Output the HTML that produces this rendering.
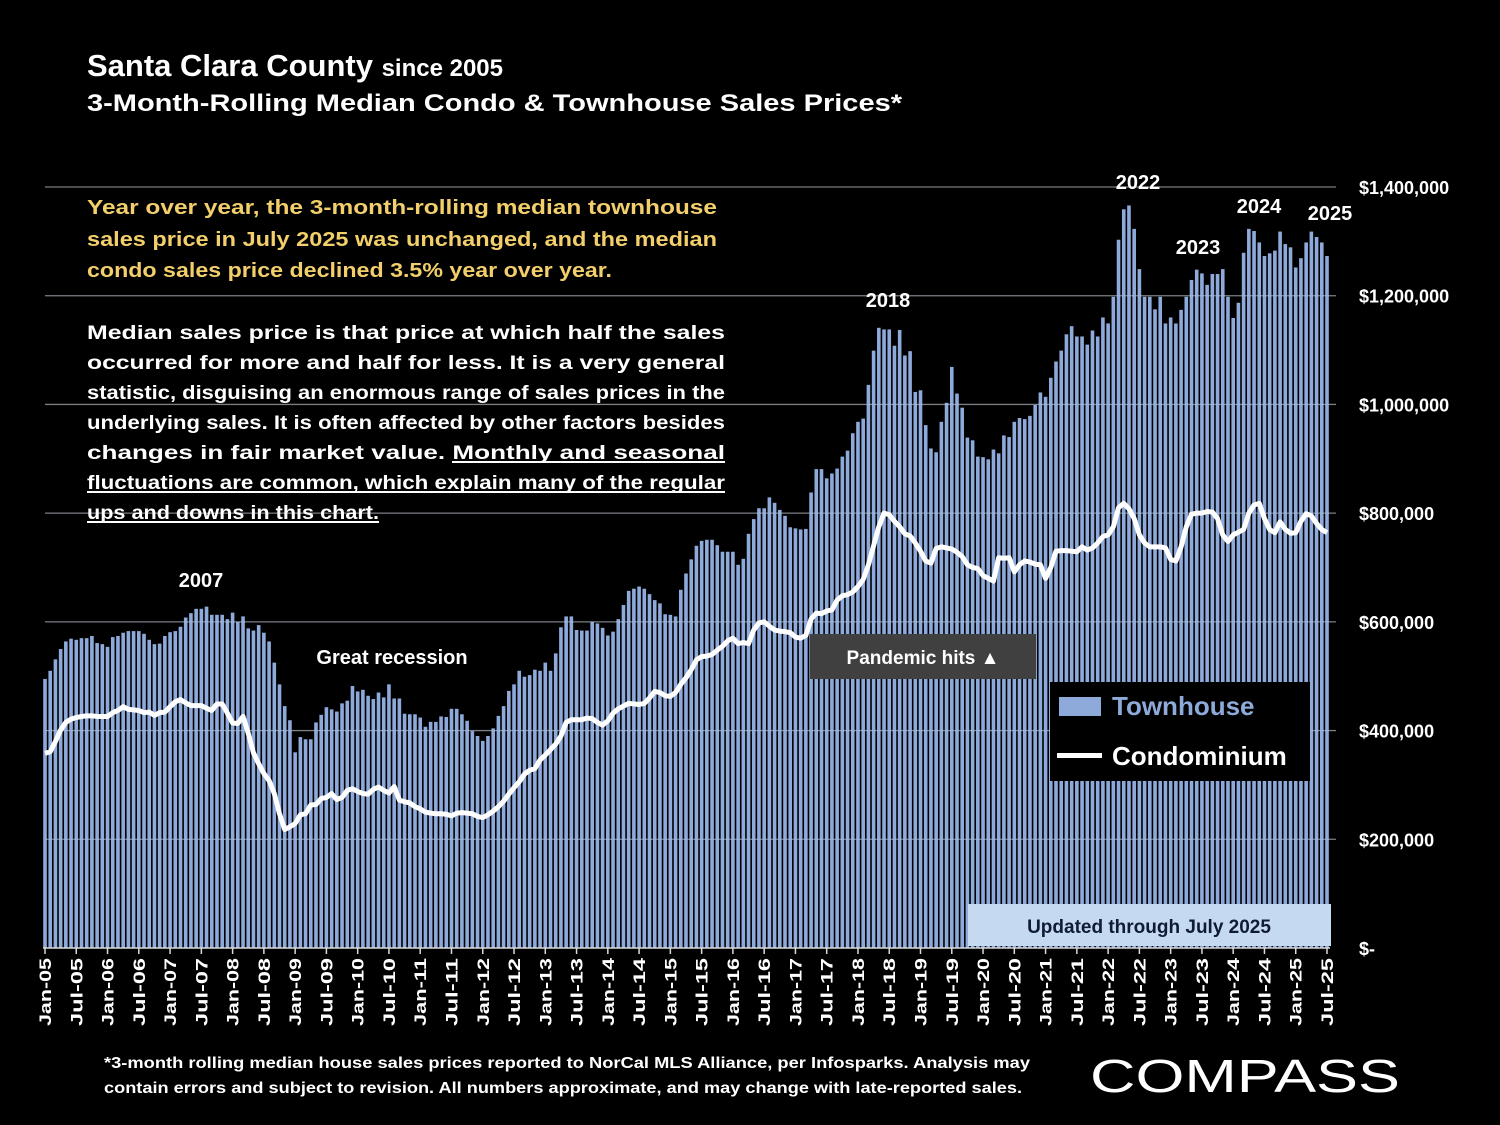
<!DOCTYPE html>
<html><head><meta charset="utf-8">
<style>
html,body{margin:0;padding:0;background:#000;}
svg{display:block;font-family:"Liberation Sans",sans-serif;}
</style></head>
<body>
<svg id="chart" width="1500" height="1125" viewBox="0 0 1500 1125" xmlns="http://www.w3.org/2000/svg">
<rect x="0" y="0" width="1500" height="1125" fill="#000"/>
<g fill="#fff" font-weight="bold">
<text x="87" y="76" font-size="31">Santa Clara County <tspan font-size="24">since 2005</tspan></text>
<text x="87" y="111" font-size="24" textLength="815" lengthAdjust="spacingAndGlyphs">3-Month-Rolling Median Condo &amp; Townhouse Sales Prices*</text>
</g>
<g id="grid"></g>
<g id="bars"></g>
<g id="gridTop"></g>
<path id="condoLine" fill="none" stroke="#fff" stroke-width="5" stroke-linejoin="round"/>
<g id="yaxis" fill="#fff" font-size="18" font-weight="bold"></g>
<g id="xaxis" fill="#fff" font-size="17" font-weight="bold"></g>

<g fill="#f2cf6a" font-size="20" font-weight="bold">
<text x="87" y="214" textLength="630" lengthAdjust="spacingAndGlyphs">Year over year, the 3-month-rolling median townhouse</text>
<text x="87" y="246" textLength="630" lengthAdjust="spacingAndGlyphs">sales price in July 2025 was unchanged, and the median</text>
<text x="87" y="277" textLength="525" lengthAdjust="spacingAndGlyphs">condo sales price declined 3.5% year over year.</text>
</g>
<g fill="#fff" font-size="19" font-weight="bold">
<text x="87" y="339" textLength="638" lengthAdjust="spacingAndGlyphs">Median sales price is that price at which half the sales</text>
<text x="87" y="369" textLength="638" lengthAdjust="spacingAndGlyphs">occurred for more and half for less. It is a very general</text>
<text x="87" y="399" textLength="638" lengthAdjust="spacingAndGlyphs">statistic, disguising an enormous range of sales prices in the</text>
<text x="87" y="429" textLength="638" lengthAdjust="spacingAndGlyphs">underlying sales. It is often affected by other factors besides</text>
<text x="87" y="459" textLength="638" lengthAdjust="spacingAndGlyphs">changes in fair market value. Monthly and seasonal</text>
<text x="87" y="489" textLength="638" lengthAdjust="spacingAndGlyphs">fluctuations are common, which explain many of the regular</text>
<text x="87" y="519" textLength="292" lengthAdjust="spacingAndGlyphs">ups and downs in this chart.</text>
<rect x="452" y="461" width="273" height="2" fill="#fff"/>
<rect x="87" y="491" width="638" height="2" fill="#fff"/>
<rect x="87" y="521" width="292" height="2" fill="#fff"/>
</g>

<g fill="#fff" font-size="20" font-weight="bold" text-anchor="middle">
<text x="201" y="587">2007</text>
<text x="392" y="664">Great recession</text>
<text x="888" y="307">2018</text>
<text x="1138" y="189">2022</text>
<text x="1198" y="254">2023</text>
<text x="1259" y="213">2024</text>
<text x="1330" y="220">2025</text>
</g>

<g>
<rect x="810" y="634" width="226" height="45" fill="#404040"/>
<text x="923" y="664" fill="#fff" font-size="19" font-weight="bold" text-anchor="middle">Pandemic hits ▲</text>
</g>

<g>
<rect x="1050" y="682" width="260" height="99" fill="#000"/>
<g>
<rect x="1059" y="697" width="42" height="19" fill="#8eaadb"/>
<text x="1112" y="715" fill="#8eaadb" font-size="26" font-weight="bold">Townhouse</text>
</g>
<g>
<rect x="1057" y="753" width="45" height="5" fill="#fff"/>
<text x="1112" y="765" fill="#fff" font-size="26" font-weight="bold">Condominium</text>
</g>
</g>

<g>
<rect x="968" y="904" width="363" height="42" fill="#c5daf0"/>
<text x="1149" y="933" fill="#0f1c33" font-size="19" font-weight="bold" text-anchor="middle">Updated through July 2025</text>
</g>

<g fill="#fff" font-size="16" font-weight="bold">
<text x="104" y="1068" textLength="926" lengthAdjust="spacingAndGlyphs">*3-month rolling median house sales prices reported to NorCal MLS Alliance, per Infosparks. Analysis may</text>
<text x="104" y="1093" textLength="918" lengthAdjust="spacingAndGlyphs">contain errors and subject to revision. All numbers approximate, and may change with late-reported sales.</text>
</g>
<text x="1090" y="1092" fill="#fff" font-size="46" textLength="310" lengthAdjust="spacingAndGlyphs">COMPASS</text>
</svg>
<script>
const months = ["Jan","Feb","Mar","Apr","May","Jun","Jul","Aug","Sep","Oct","Nov","Dec"];
const townhouse = [
495,510,531,550,564,569,567,570,570,574,561,559,
554,572,574,580,583,583,583,578,567,559,560,574,
581,583,591,608,616,624,624,628,613,613,613,605,
617,600,610,588,584,594,580,564,525,485,445,419,
360,388,384,384,415,429,443,439,435,450,455,482,
472,475,
464,458,470,461,485,459,459,431,430,430,424,407,416,416,426,425,440,440,430,418,399,390,381,390,404,427,445,473,485,510,499,502,512,510,525,510,542,590,610,610,585,584,584,600,597,589,575,582,605,631,657,661,665,661,651,640,634,614,613,610,659,689,715,740,749,751,
751,741,729,729,729,705,716,762,789,809,809,829,819,806,795,774,772,770,771,838,881,881,864,873,882,904,915,947,968,974,1036,1099,1141,1138,1138,1108,1137,1090,1098,1023,1026,962,919,912,968,1003,1069,1020,994,939,934,904,903,899,917,910,943,940,968,
975,973,979,999,1022,1014,1049,1079,1099,1129,1144,1125,1125,1110,1136,1125,1160,1149,1198,1303,1359,1366,1323,1249,1198,1198,1175,1198,1149,1160,1149,1174,1198,1229,1248,1241,1220,1240,1240,1249,1198,1159,1187,1279,1323,1319,1298,1273,1278,1283,1318,1295,1289,1252,1269,1298,1318,1308,1298,1273
];
const condo = [
358,361,380,401,415,421,424,426,427,427,426,426,
426,433,437,444,439,438,437,433,434,428,433,434,
444,453,457,451,446,446,446,441,437,449,449,432,
414,413,426,395,359,339,321,308,284,247,218,223,
229,245,247,263,264,275,277,284,273,277,290,293,
288,284,283,292,296,290,285,297,272,269,
267,260,256,250,248,247,247,246,243,248,
249,248,247,242,240,245,252,260,270,283,
295,306,320,327,330,346,355,365,375,390,
415,420,420,420,423,422,415,410,418,432,
440,445,450,449,448,450,460,472,470,464,
463,470,485,497,512,530,536,537,
540,548,555,565,570,560,562,560,585,598,600,592,585,583,582,580,572,570,575,605,616,615,620,622,640,648,650,655,665,678,705,740,775,800,797,785,775,762,758,745,730,712,708,735,738,736,734,728,720,705,700,698,685,680,675,718,717,718,692,705,712,710,706,
705,680,700,730,731,731,730,729,738,732,736,745,757,760,775,810,818,808,790,760,745,738,738,738,736,715,712,738,775,798,800,800,803,802,790,760,748,760,765,770,800,815,818,790,770,764,784,770,763,764,785,799,795,781,770,764
];
const yTicks = [0,200,400,600,800,1000,1200,1400];
const yTickLabels = ["$-","$200,000","$400,000","$600,000","$800,000","$1,000,000","$1,200,000","$1,400,000"];
const startYear = 2005;

const NS = "http://www.w3.org/2000/svg";
const n = townhouse.length;
const X0 = 45, X1 = 1327;
const step = (X1 - X0) / (n - 1);
function xs(i){ return X0 + i * step; }
function ys(v){ return 948 - v * (761 / 1400); }
function mk(tag, attrs, parent){
  const e = document.createElementNS(NS, tag);
  for (const k in attrs) e.setAttribute(k, attrs[k]);
  parent.appendChild(e);
  return e;
}
const grid = document.getElementById("grid");
const gridTop = document.getElementById("gridTop");
const yaxis = document.getElementById("yaxis");
yTicks.forEach((t, k) => {
  if (t === 0) return;
  const l = mk("line", {x1: 45, x2: 1336, y1: ys(t), y2: ys(t), stroke: "#5a5a5a", "stroke-width": 1.3}, grid);
  
  
  const l2 = mk("line", {x1: 45, x2: 1336, y1: ys(t), y2: ys(t), stroke: "#c9d6ec", "stroke-opacity": 0.35, "stroke-width": 1}, gridTop);
  
  
});
yTicks.forEach((t, k) => {
  const tx = mk("text", {x: 1359, y: ys(t) + 7}, yaxis);
  tx.textContent = yTickLabels[k];
  
  
});
const bars = document.getElementById("bars");
townhouse.forEach((v, i) => {
  const r = mk("rect", {x: xs(i) - 1.8, y: ys(v), width: 3.6, height: 948 - ys(v), fill: "#8eaadb"}, bars);
  
  
});
let d = "";
condo.forEach((v, i) => { d += (i ? "L" : "M") + xs(i).toFixed(2) + " " + ys(v).toFixed(2); });
document.getElementById("condoLine").setAttribute("d", d);

const xaxis = document.getElementById("xaxis");
const ax = mk("line", {x1: 43, x2: 1330, y1: 948, y2: 948, stroke: "#d9d9d9", "stroke-width": 1.5}, xaxis);


for (let i = 0; i < n; i += 6) {
  const tk = mk("line", {x1: xs(i), x2: xs(i), y1: 948, y2: 954, stroke: "#d9d9d9", "stroke-width": 1.5}, xaxis);
  
  
  const yr = String(startYear + Math.floor(i / 12)).slice(2);
  const label = months[i % 12] + "-" + yr;
  const tx = mk("text", {x: 0, y: 0, "text-anchor": "end", textLength: 68, lengthAdjust: "spacingAndGlyphs", transform: "translate(" + (xs(i) + 6) + ",958) rotate(-90)"}, xaxis);
  tx.textContent = label;
  
  
}
</script>
</body></html>
